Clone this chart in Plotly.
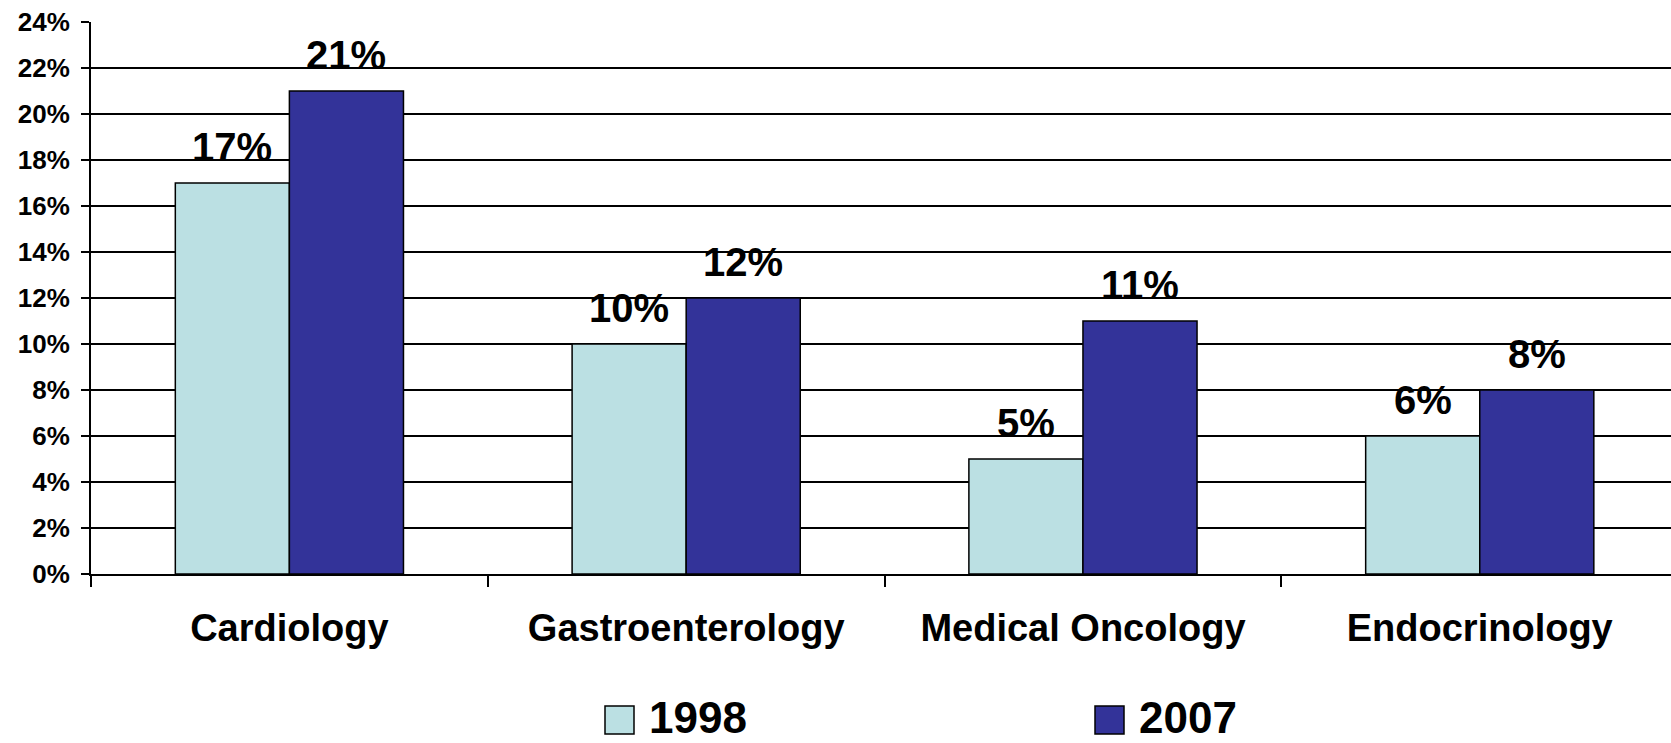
import plotly.graph_objects as go

categories = ["Cardiology", "Gastroenterology", "Medical Oncology", "Endocrinology"]
share_1998 = [0.17, 0.10, 0.05, 0.06]
share_2007 = [0.21, 0.12, 0.11, 0.08]
series_names = ["1998", "2007"]
tick_vals = [0, 0.02, 0.04, 0.06, 0.08, 0.10, 0.12, 0.14, 0.16, 0.18, 0.20, 0.22, 0.24]

colors = ["#BBE0E3", "#333399"]
FONT = "Arial, Liberation Sans, sans-serif"

fig = go.Figure()
for name, vals, col in zip(series_names, [share_1998, share_2007], colors):
    fig.add_trace(go.Bar(
        x=categories, y=vals, name=name,
        marker=dict(color=col, line=dict(color="black", width=1.5)),
        showlegend=False,
    ))

# value labels above each bar
for i, (name, vals) in enumerate(zip(series_names, [share_1998, share_2007])):
    shift = -57 if i == 0 else 57
    for c, v in zip(categories, vals):
        fig.add_annotation(
            x=c, y=v, text=f"{v:.0%}", showarrow=False,
            xshift=shift, yshift=12, yanchor="bottom",
            font=dict(family=FONT, size=40, color="black", weight="bold"),
        )

# legend drawn by hand so the swatches can be as big as the original
legend_x = [605, 1095]
for name, col, lx in zip(series_names, colors, legend_x):
    x0 = (lx - 91) / 1580
    x1 = (lx + 29 - 91) / 1580
    fig.add_shape(type="rect", xref="paper", yref="paper",
                  x0=x0, x1=x1, y0=(574 - 706) / 552, y1=(574 - 734) / 552,
                  fillcolor=col, line=dict(color="black", width=1.5))
    fig.add_annotation(xref="paper", yref="paper", x=(lx + 43 - 91) / 1580,
                       y=(574 - 743) / 552, xanchor="left", yanchor="bottom",
                       text=name, showarrow=False, borderpad=0,
                       font=dict(family=FONT, size=44, color="black", weight="bold"))

fig.update_layout(
    width=1671, height=743,
    margin=dict(l=91, r=0, t=22, b=169),
    plot_bgcolor="white", paper_bgcolor="white",
    barmode="group", bargap=0.425, bargroupgap=0,
    font=dict(family=FONT, color="black"),
)
fig.update_yaxes(
    range=[0, 0.24], tickvals=tick_vals, tickformat=".0%",
    showgrid=True, gridcolor="black", gridwidth=2,
    showline=True, linecolor="black", linewidth=2,
    ticks="outside", ticklen=8, tickwidth=2, tickcolor="black",
    tickfont=dict(family=FONT, size=26, color="black", weight="bold"),
    ticklabelstandoff=6,
    zeroline=False,
)
fig.update_xaxes(
    range=[-0.5, 3.482],
    showline=True, linecolor="black", linewidth=2,
    ticks="outside", tickson="boundaries", ticklen=11, tickwidth=2, tickcolor="black",
    tickfont=dict(family=FONT, size=38, color="black", weight="bold"),
    ticklabelstandoff=19,
)

# page body has an 8px default margin that pushes the chart off the window
fig.write_html("out.html", config={"displayModeBar": False},
               post_script="document.body.style.margin='0';")
